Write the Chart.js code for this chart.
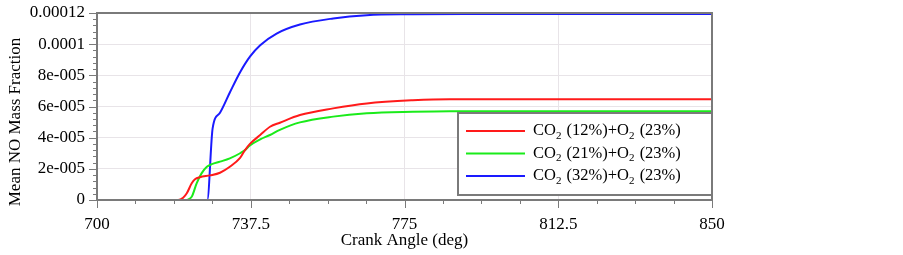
<!DOCTYPE html>
<html>
<head>
<meta charset="utf-8">
<script src="https://cdn.jsdelivr.net/npm/chart.js@4"></script>
<style>
  body { margin: 0; background: #fff; }
  #wrap { width: 903px; height: 255px; }
</style>
</head>
<body>
<div id="wrap"><canvas id="chart" width="903" height="255"></canvas></div>
<script>
const seriesLabels = ['CO₂ (12%)+O₂ (23%)', 'CO₂ (21%)+O₂ (23%)', 'CO₂ (32%)+O₂ (23%)'];
const seriesColors = ['#ff1a1a', '#1aeb1a', '#1a1aff'];

const angleRed = [700, 719.8, 721.0, 721.9, 723.1, 723.9, 725.1, 727.6, 730, 732.4, 734.9, 736.1, 737.3, 739.8, 742.2, 744.6, 749.5, 757.6, 765.8, 777, 786, 850];
const noRed = [0, 0, 0.15e-5, 0.43e-5, 1.07e-5, 1.33e-5, 1.46e-5, 1.58e-5, 1.75e-5, 2.13e-5, 2.7e-5, 3.2e-5, 3.6e-5, 4.17e-5, 4.7e-5, 4.96e-5, 5.45e-5, 5.88e-5, 6.2e-5, 6.4e-5, 6.47e-5, 6.47e-5];

const angleGreen = [700, 721.5, 723.1, 724.3, 725.5, 726.8, 728, 730, 732.4, 734.9, 736.1, 737.3, 739.8, 742.2, 744.6, 749.5, 757.6, 765.8, 777, 786, 850];
const noGreen = [0, 0, 0.21e-5, 1.07e-5, 1.71e-5, 2.13e-5, 2.3e-5, 2.46e-5, 2.67e-5, 3.0e-5, 3.2e-5, 3.5e-5, 3.89e-5, 4.17e-5, 4.5e-5, 4.98e-5, 5.35e-5, 5.56e-5, 5.66e-5, 5.7e-5, 5.7e-5];

const angleBlue = [700, 726.9, 728.2, 730, 732.4, 734.9, 737.3, 739.8, 743.8, 749.5, 757.6, 765.8, 777, 790, 850];
const noBlue = [0, 0, 4.6e-5, 5.6e-5, 6.9e-5, 8.2e-5, 9.2e-5, 9.93e-5, 1.068e-4, 1.126e-4, 1.165e-4, 1.186e-4, 1.192e-4, 1.194e-4, 1.194e-4];

const xTickLabels = ['700', '737.5', '775', '812.5', '850'];
const yTickLabels = ['0', '2e-005', '4e-005', '6e-005', '8e-005', '0.0001', '0.00012'];
const yTitle = 'Mean NO Mass Fraction';

const FONT = '"Liberation Serif", "Times New Roman", serif';
const FRAME = '#7a7a7a';

function pts(xs, ys) {
    return xs.map((x, i) => ({x: x, y: ys[i]}));
}

// frame, custom tick marks, y title and the inside legend
const decor = {
    id: 'decor',
    afterDraw(chart) {
        const c = chart.ctx;
        const a = chart.chartArea;
        const xs = chart.scales.x, ys = chart.scales.y;
        c.save();
        c.strokeStyle = FRAME;
        c.lineWidth = 2;
        c.strokeRect(a.left, a.top, a.right - a.left, a.bottom - a.top);
        c.lineWidth = 1;
        xs.ticks.forEach((t, i) => {
            const px = Math.round(xs.getPixelForValue(t.value)) + 0.5;
            const len = i % 4 === 0 ? 8 : 4;
            c.beginPath(); c.moveTo(px, a.bottom); c.lineTo(px, a.bottom + len); c.stroke();
        });
        ys.ticks.forEach((t, i) => {
            const py = Math.round(ys.getPixelForValue(t.value)) + 0.5;
            const len = i % 5 === 0 ? 8 : 4;
            c.beginPath(); c.moveTo(a.left - len, py); c.lineTo(a.left, py); c.stroke();
        });

        // y axis title
        c.save();
        c.translate(16, 122);
        c.rotate(-Math.PI / 2);
        c.fillStyle = '#000';
        c.font = '17px ' + FONT;
        c.textAlign = 'center';
        c.textBaseline = 'middle';
        c.fillText(yTitle, 0, 0);
        c.restore();

        // legend box
        const bx = 458, by = 113, bw = a.right - 458, bh = 82;
        c.fillStyle = '#fff';
        c.fillRect(bx, by, bw, bh);
        c.strokeStyle = FRAME;
        c.lineWidth = 2;
        c.strokeRect(bx, by, bw, bh);
        c.textBaseline = 'middle';
        chart.data.datasets.forEach((ds, i) => {
            const y = by + 18 + i * 22.5;
            c.strokeStyle = ds.borderColor;
            c.lineWidth = 2;
            c.beginPath(); c.moveTo(466, y); c.lineTo(525, y); c.stroke();
            let tx = 533;
            c.fillStyle = '#000';
            c.font = '16.5px ' + FONT;
            ds.label.split('₂').forEach((part, k) => {
                if (k > 0) {
                    c.font = '11px ' + FONT;
                    c.fillText('2', tx, y + 5);
                    tx += c.measureText('2').width + 1;
                    c.font = '16.5px ' + FONT;
                }
                c.fillText(part, tx, y);
                tx += c.measureText(part).width;
            });
        });
        c.restore();
    }
};

new Chart(document.getElementById('chart'), {
    type: 'line',
    data: {
        datasets: [
            {label: seriesLabels[0], data: pts(angleRed, noRed), borderColor: seriesColors[0]},
            {label: seriesLabels[1], data: pts(angleGreen, noGreen), borderColor: seriesColors[1]},
            {label: seriesLabels[2], data: pts(angleBlue, noBlue), borderColor: seriesColors[2]},
        ]
    },
    options: {
        responsive: false,
        animation: false,
        layout: {padding: {top: 13, right: 191, left: 0, bottom: 0}},
        elements: {
            line: {borderWidth: 2, cubicInterpolationMode: 'monotone', fill: false},
            point: {radius: 0}
        },
        plugins: {legend: {display: false}, tooltip: {enabled: false}},
        scales: {
            x: {
                type: 'linear', min: 700, max: 850,
                afterBuildTicks(s) {
                    s.ticks = [];
                    for (let i = 0; i <= 16; i++) s.ticks.push({value: 700 + i * 9.375});
                },
                afterFit(s) { s.height = 55; s.paddingLeft = 0; s.paddingRight = 0; },
                ticks: {
                    autoSkip: false, maxRotation: 0, padding: 14, color: '#000',
                    font: {family: FONT, size: 17},
                    callback: (v, i) => i % 4 === 0 ? xTickLabels[i / 4] : ''
                },
                grid: {
                    drawTicks: false,
                    color: (ctx) => ctx.index % 4 === 0 ? '#e8e4e8' : 'rgba(0,0,0,0)'
                },
                border: {display: false},
                title: {display: true, text: 'Crank Angle (deg)', color: '#000',
                        font: {family: FONT, size: 17}, padding: {top: 0, bottom: 4}}
            },
            y: {
                type: 'linear', min: 0, max: 0.00012,
                afterBuildTicks(s) {
                    s.ticks = [];
                    for (let i = 0; i <= 30; i++) s.ticks.push({value: i * 4e-6});
                },
                afterFit(s) { s.width = 97; s.paddingTop = 0; s.paddingBottom = 0; },
                ticks: {
                    autoSkip: false, padding: 12, color: '#000',
                    font: {family: FONT, size: 17},
                    callback: (v, i) => i % 5 === 0 ? yTickLabels[i / 5] : ''
                },
                grid: {
                    drawTicks: false,
                    color: (ctx) => ctx.index % 5 === 0 ? '#e8e4e8' : 'rgba(0,0,0,0)'
                },
                border: {display: false}
            }
        }
    },
    plugins: [decor]
});
</script>
</body>
</html>
